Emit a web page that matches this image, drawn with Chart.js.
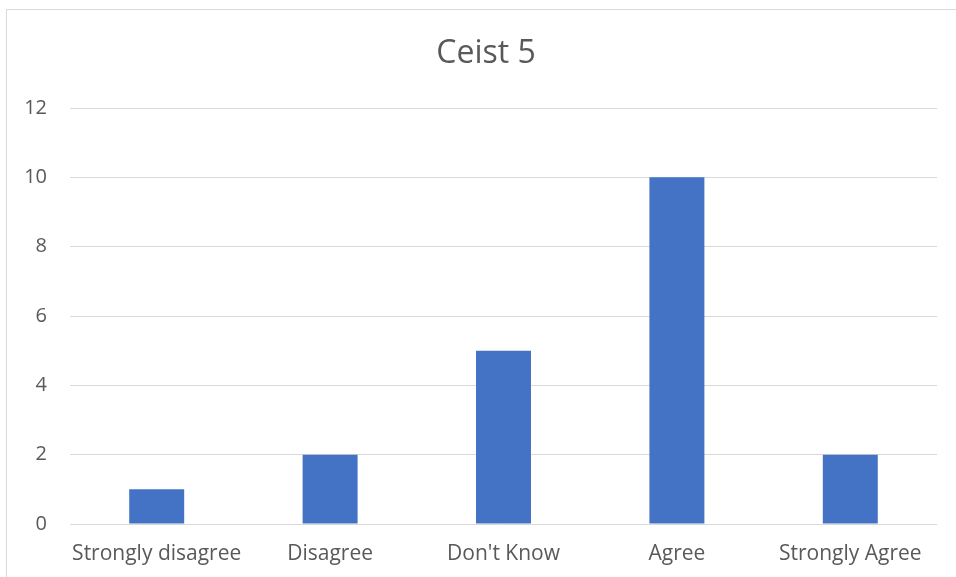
<!DOCTYPE html>
<html>
<head>
<meta charset="utf-8">
<script src="https://cdn.jsdelivr.net/npm/chart.js@4"></script>
<style>
  html, body { margin: 0; padding: 0; background: #fff; }
  #wrap { position: relative; width: 956px; height: 577px; overflow: hidden; }
  #frame { position: absolute; left: 6px; top: 9px; width: 1000px; height: 620px; border: 1px solid #d9d9d9; box-sizing: border-box; }
  canvas { position: absolute; left: 0; top: 0; }
</style>
</head>
<body>
<div id="wrap">
  <div id="frame"></div>
  <canvas id="chart" width="956" height="577"></canvas>
</div>
<script>
const categories = ['Strongly disagree', 'Disagree', "Don't Know", 'Agree', 'Strongly Agree'];
const counts = [1, 2, 5, 10, 2];
const yTicks = [0, 2, 4, 6, 8, 10, 12];
const chartTitle = 'Ceist 5';

const textColor = '#595959';
const fontFamily = '"Open Sans", "Liberation Sans", sans-serif';

// title is centred on the whole frame, not the plot, so draw it here
const frameTitle = {
    id: 'frameTitle',
    afterDraw(chart) {
        const ctx = chart.ctx;
        ctx.save();
        ctx.fillStyle = textColor;
        ctx.font = '32px ' + fontFamily;
        ctx.textAlign = 'center';
        ctx.textBaseline = 'middle';
        ctx.fillText(chartTitle, 486, 54);
        ctx.restore();
    }
};

new Chart(document.getElementById('chart'), {
    type: 'bar',
    data: {
        labels: categories,
        datasets: [{
            label: chartTitle,
            data: counts,
            backgroundColor: '#4472c4',
            categoryPercentage: 1,
            barPercentage: 0.317,
        }]
    },
    plugins: [frameTitle],
    options: {
        responsive: false,
        animation: false,
        layout: { padding: { left: 0, right: 19, top: 108, bottom: 0 } },
        plugins: {
            legend: { display: false },
            tooltip: { enabled: false },
            title: { display: false }
        },
        scales: {
            x: {
                grid: { display: false, drawTicks: false },
                border: { display: false },
                ticks: {
                    color: textColor,
                    font: { family: fontFamily, size: 21 },
                    padding: 17,
                    maxRotation: 0,
                    autoSkip: false,
                },
                afterFit: (axis) => { axis.height = 53; }
            },
            y: {
                min: yTicks[0],
                max: yTicks[yTicks.length - 1],
                afterBuildTicks: (axis) => { axis.ticks = yTicks.map(v => ({ value: v })); },
                grid: { color: '#d9d9d9', lineWidth: 1, drawTicks: false },
                border: { display: false },
                ticks: {
                    color: textColor,
                    font: { family: fontFamily, size: 20 },
                    padding: 23,
                },
                afterFit: (axis) => { axis.width = 70; }
            }
        }
    }
});
</script>
</body>
</html>
